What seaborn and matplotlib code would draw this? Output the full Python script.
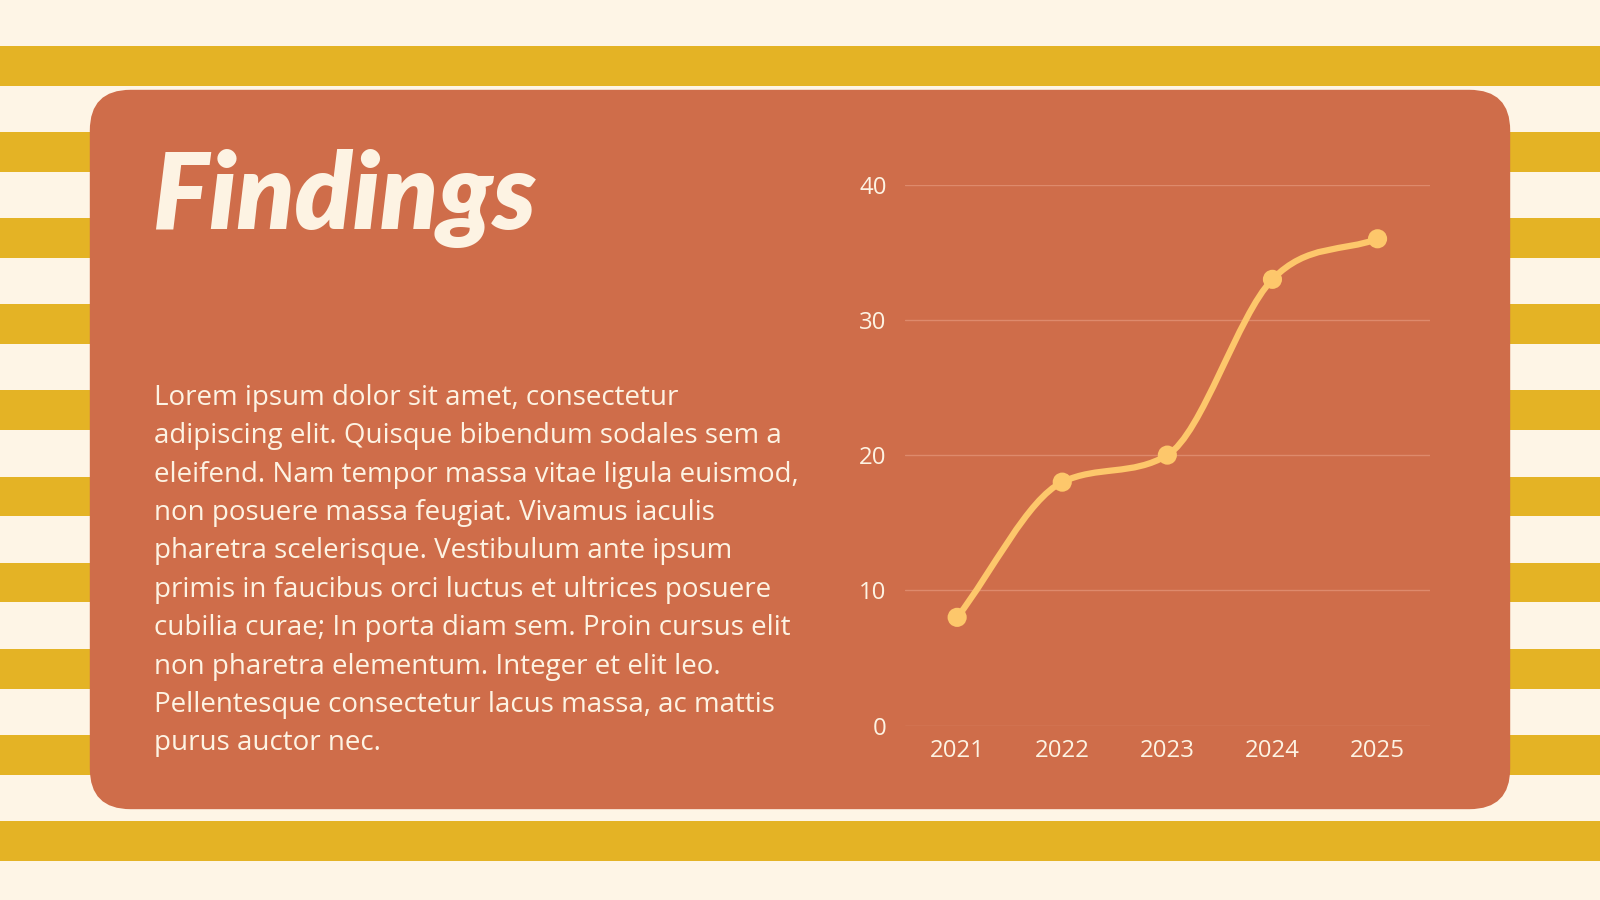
import numpy as np
import pandas as pd
import seaborn as sns
import matplotlib
matplotlib.use("Agg")
import matplotlib.pyplot as plt
from matplotlib.patches import FancyBboxPatch, Rectangle
from matplotlib.path import Path
from matplotlib.patches import PathPatch

# ---- data ----
years = ["2021", "2022", "2023", "2024", "2025"]
values = [8, 18, 20, 33, 36]
y_ticks = [0, 10, 20, 30, 40]

title_text = "Findings"
body_lines = [
    "Lorem ipsum dolor sit amet, consectetur",
    "adipiscing elit. Quisque bibendum sodales sem a",
    "eleifend. Nam tempor massa vitae ligula euismod,",
    "non posuere massa feugiat. Vivamus iaculis",
    "pharetra scelerisque. Vestibulum ante ipsum",
    "primis in faucibus orci luctus et ultrices posuere",
    "cubilia curae; In porta diam sem. Proin cursus elit",
    "non pharetra elementum. Integer et elit leo.",
    "Pellentesque consectetur lacus massa, ac mattis",
    "purus auctor nec.",
]

# ---- colours ----
BG = "#FEF5E6"
STRIPE = "#E4B325"
CARD = "#CF6D4A"
CREAM = "#FDF3E3"
LINE = "#FDC76B"
GRID = "#DE8A6C"

sns.set_theme(style="white")
plt.rcParams["font.family"] = ["Open Sans", "DejaVu Sans"]

W, H = 1568, 882
fig = plt.figure(figsize=(16, 9), dpi=100)
fig.patch.set_facecolor(BG)

# background axes in reference pixel space
bg = fig.add_axes([0, 0, 1, 1])
bg.set_xlim(0, W)
bg.set_ylim(H, 0)
bg.axis("off")
bg.set_facecolor(BG)

for i in range(10):
    top = 45 + 84.4 * i
    bg.add_patch(Rectangle((0, top), W, 39, facecolor=STRIPE, edgecolor="none", zorder=1))

card = FancyBboxPatch((88, 88), 1480 - 88, 793 - 88,
                      boxstyle="round,pad=0,rounding_size=40",
                      facecolor=CARD, edgecolor="none", zorder=2)
bg.add_patch(card)

bg.text(150, 195, title_text, fontsize=76, color=CREAM, fontweight="heavy",
        fontstyle="italic", family=["Lato", "DejaVu Sans"],
        va="center", ha="left", zorder=3)

for k, line in enumerate(body_lines):
    bg.text(151, 390 + 37.6 * k, line, fontsize=20, color=CREAM, va="center",
            ha="left", zorder=3)

# ---- chart ----
ax = fig.add_axes([886.5 / W, 1 - 711 / H, (1401.5 - 886.5) / W, (711 - 181) / H])
ax.set_facecolor("none")
df = pd.DataFrame({"year": years, "value": values})
xs = np.arange(len(years), dtype=float)
ys = np.array(values, dtype=float)

# monotone cubic (Fritsch-Carlson) tangents for a smooth line through the points
d = np.diff(ys)
m = np.zeros_like(ys)
m[0], m[-1] = d[0], d[-1]
m[1:-1] = (d[:-1] + d[1:]) / 2
for k in range(len(d)):
    if d[k] == 0:
        m[k] = m[k + 1] = 0
        continue
    a, b = m[k] / d[k], m[k + 1] / d[k]
    s = a * a + b * b
    if s > 9:
        t = 3 / np.sqrt(s)
        m[k] = t * a * d[k]
        m[k + 1] = t * b * d[k]
verts = [(xs[0], ys[0])]
codes = [Path.MOVETO]
for k in range(len(d)):
    h = xs[k + 1] - xs[k]
    verts += [(xs[k] + h / 3, ys[k] + m[k] * h / 3),
              (xs[k + 1] - h / 3, ys[k + 1] - m[k + 1] * h / 3),
              (xs[k + 1], ys[k + 1])]
    codes += [Path.CURVE4] * 3
ax.add_patch(PathPatch(Path(verts, codes), facecolor="none", edgecolor=LINE,
                       lw=4.5, capstyle="round", zorder=3))

sns.scatterplot(data=df, x="year", y="value", ax=ax, color=LINE, s=190,
                edgecolor="none", zorder=4, legend=False)

ax.set_xlim(-0.5, len(years) - 0.5)
ax.set_ylim(0, 40)
ax.set_yticks(y_ticks)
ax.set_yticklabels([str(v) for v in y_ticks])
ax.set_xticks(xs)
ax.set_xticklabels(years)
ax.grid(axis="y", color=GRID, lw=1)
ax.grid(axis="x", visible=False)
ax.set_axisbelow(True)
for s in ax.spines.values():
    s.set_visible(False)
ax.tick_params(axis="both", length=0, labelsize=17.3, colors=CREAM)
ax.tick_params(axis="y", pad=13)
ax.tick_params(axis="x", pad=10)
ax.set_xlabel("")
ax.set_ylabel("")

fig.savefig("out.png", dpi=100, facecolor=BG)
